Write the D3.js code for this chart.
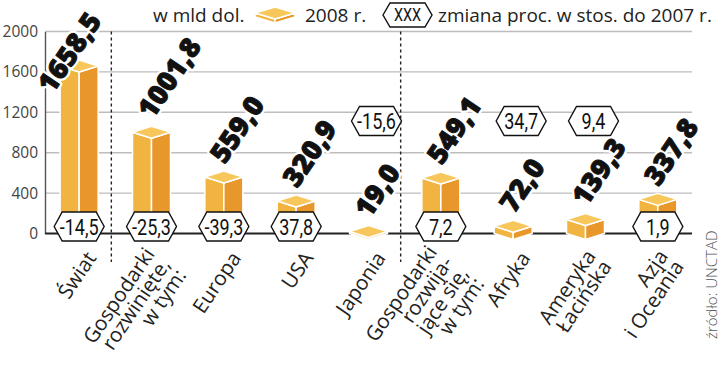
<!DOCTYPE html>
<html><head><meta charset="utf-8">
<script src="https://cdn.jsdelivr.net/npm/d3@7"></script>
<style>body{margin:0;background:#fff}svg{display:block}</style>
</head><body><svg id="c" width="720" height="369"></svg>
<script>
// ---- data ----
const categories = [
  ["Świat"],
  ["Gospodarki","rozwinięte,","w tym:"],
  ["Europa"],
  ["USA"],
  ["Japonia"],
  ["Gospodarki","rozwija-","jące się,","w tym:"],
  ["Afryka"],
  ["Ameryka","Łacińska"],
  ["Azja","i Oceania"]
];
const values2008 = [1658.5, 1001.8, 559.0, 320.9, 19.0, 549.1, 72.0, 139.3, 337.8];
const changeLabels = ["-14,5","-25,3","-39,3","37,8","-15,6","7,2","34,7","9,4","1,9"];
const yTicks = [0, 400, 800, 1200, 1600, 2000];
const separatorsBefore = [1, 5];
const legendUnit = "w mld dol.";
const legendBar = "2008 r.";
const legendHexText = "XXX";
const legendHex = "zmiana proc. w stos. do 2007 r.";
const sourceText = "źródło: UNCTAD";

// ---- setup ----
const svg = d3.select("#c");
const plotL = 45, plotR = 692;
const x = d3.scalePoint().domain(d3.range(categories.length)).range([43, 694]).padding(0.5);
const y = d3.scaleLinear().domain([0, 2000]).range([233.5, 31.5]);
const fmt = d3.formatLocale({decimal: ",", thousands: " ", grouping: [3], currency: ["", ""]}).format(".1f");
const bw = 38, dep = 6;
const ang = 56, rad = ang * Math.PI / 180;
const C = {top: "#f8c75c", left: "#f2b440", right: "#e8982a"};

// gridlines
svg.append("g").selectAll("line").data(yTicks.filter(d => d > 0)).join("line")
  .attr("x1", plotL).attr("x2", plotR)
  .attr("y1", d => y(d)).attr("y2", d => y(d))
  .attr("stroke", "#bdbdbd").attr("stroke-width", 1.4);

// y axis
const ax = svg.append("g").attr("transform", `translate(${plotL},0)`)
  .call(d3.axisLeft(y).tickValues(yTicks).tickFormat(d3.format("d")).tickSize(0).tickSizeOuter(0).tickPadding(7));
ax.select(".domain").attr("stroke", "#555").attr("stroke-width", 1.4);
ax.selectAll("text").attr("font-family", "Open Sans").attr("font-size", 15.5).attr("fill", "#444");

// separators
svg.append("g").selectAll("line").data(separatorsBefore).join("line")
  .attr("x1", i => (x(i - 1) + x(i)) / 2 - 4).attr("x2", i => (x(i - 1) + x(i)) / 2 - 4)
  .attr("y1", y(2000)).attr("y2", 262)
  .attr("stroke", "#222").attr("stroke-width", 1.4).attr("stroke-dasharray", "3,3");

// baseline
svg.append("line").attr("x1", plotL).attr("x2", plotR).attr("y1", y(0)).attr("y2", y(0))
  .attr("stroke", "#222").attr("stroke-width", 2);

// bars (3d boxes)
function box(g, xc, yv, yb, w, d) {
  const x0 = xc - w / 2, x1 = xc + w / 2;
  const st = s => s.attr("stroke", "#fff").attr("stroke-width", 1.5).attr("stroke-linejoin", "round");
  if (yb - yv > 0.5) {
    st(g.append("polygon").attr("points", [[x0, yv], [xc, yv + d], [xc, yb + d], [x0, yb]].join(" ")).attr("fill", C.left));
    st(g.append("polygon").attr("points", [[xc, yv + d], [x1, yv], [x1, yb], [xc, yb + d]].join(" ")).attr("fill", C.right));
  }
  st(g.append("polygon").attr("points", [[x0, yv], [xc, yv - d], [x1, yv], [xc, yv + d]].join(" ")).attr("fill", C.top));
}
const bars = svg.append("g");
values2008.forEach((v, i) => box(bars.append("g"), x(i), y(v), y(0), bw, dep));

// hexagons
function hex(g, cx, cy, w, h, p, label, fs) {
  const gg = g.append("g").attr("transform", `translate(${cx},${cy})`);
  gg.append("path").attr("d", `M${-w/2},0L${-w/2+p},${-h/2}L${w/2-p},${-h/2}L${w/2},0L${w/2-p},${h/2}L${-w/2+p},${h/2}Z`)
    .attr("fill", "#fff").attr("stroke", "#111").attr("stroke-width", 1.4);
  gg.append("text").attr("transform", "scale(0.8,1)").attr("text-anchor", "middle").attr("dy", "0.36em")
    .attr("font-family", "Roboto").attr("font-size", fs).attr("fill", "#111").text(label);
}
const hexG = svg.append("g");
changeLabels.forEach((c, i) => {
  const low = values2008[i] < 200;
  hex(hexG, low ? x(i) + 8 : x(i), low ? 121 : 226.5, 50, 29, 8, c, 22.5);
});

// value labels
const valG = svg.append("g");
values2008.forEach((v, i) => {
  let sx = x(i) + 1, sy = y(v) - 12;
  const g = valG.append("g");
  const mk = () => g.append("text")
    .attr("font-family", "Open Sans").attr("font-weight", 800).attr("font-size", 27.5)
    .attr("stroke-linejoin", "round").text(fmt(v));
  const halo = mk().attr("fill", "#fff").attr("stroke", "#fff").attr("stroke-width", 5.5);
  mk().attr("fill", "#111").attr("stroke", "#111").attr("stroke-width", 0.9);
  const L = halo.node().getComputedTextLength();
  const endY = sy - L * Math.sin(rad);
  const minEnd = 21;
  if (endY < minEnd) { const s = (minEnd - endY) / Math.sin(rad); sx -= s * Math.cos(rad); sy += s * Math.sin(rad); }
  g.attr("transform", `translate(${sx},${sy}) rotate(${-ang})`);
});

// category labels
const catG = svg.append("g");
categories.forEach((lines, i) => {
  const n = lines.length, lh = 19;
  const t = catG.append("text")
    .attr("transform", `translate(${x(i) + 18 - 7 * (n - 1)},${258 - 2 * (n - 1)}) rotate(${-ang})`)
    .attr("text-anchor", "end").attr("font-family", "Open Sans").attr("font-size", 20.5).attr("fill", "#222");
  lines.forEach((l, k) => t.append("tspan").attr("x", 0).attr("y", k * lh).text(l));
});

// legend
const lg = svg.append("g").attr("font-family", "Open Sans").attr("font-size", 19).attr("fill", "#222");
lg.append("text").attr("x", 153).attr("y", 22).text(legendUnit);
box(lg.append("g"), 275, 13, 17, 40, 6);
lg.append("text").attr("x", 305).attr("y", 22).text(legendBar);
hex(lg, 407.5, 15, 49, 24, 7, legendHexText, 18);
lg.append("text").attr("x", 438).attr("y", 22).text(legendHex);

// source
svg.append("text").attr("transform", "translate(717,339) rotate(-90)")
  .attr("font-family", "Open Sans").attr("font-weight", 300).attr("font-size", 15).attr("fill", "#555")
  .text(sourceText);
</script></body></html>
